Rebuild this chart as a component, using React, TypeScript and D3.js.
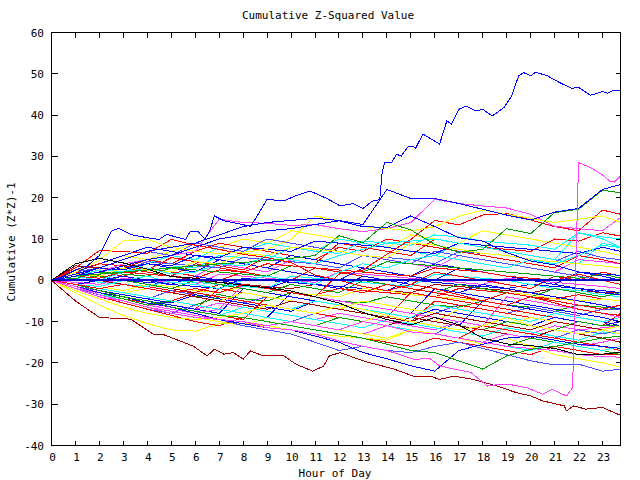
import React from 'react';
import * as d3 from 'd3';

const TITLE = 'Cumulative Z-Squared Value';
const X_LABEL = 'Hour of Day';
const Y_LABEL = 'Cumulative (Z*Z)-1';
const X_TICKS = [0,1,2,3,4,5,6,7,8,9,10,11,12,13,14,15,16,17,18,19,20,21,22,23];
const Y_TICKS = [-40,-30,-20,-10,0,10,20,30,40,50,60];
const HOURS = [0,1,2,3,4,5,6,7,8,9,10,11,12,13,14,15,16,17,18,19,20,21,22,23,23.75];

const BL = '#0000ff', RD = '#ff0000', GR = '#00a000', YE = '#ffff00', CY = '#00ffff',
  MA = '#ff40ff', MB = '#5050ff', DR = '#a00000', BK = '#000000';

// hourly series (values at HOURS)
const B2 = [0,1,3,5,7,8,9,11,13,14,14.5,15,14.5,13.5,22,19.8,19.8,18.6,17.2,15.8,14.6,16.5,17.4,22,23.2];
const B3 = [0,1,2,3.5,5,6,8,10,11,12,12.5,13.5,14.4,13,12.8,15.6,13,10.3,9.5,6.7,4.7,3.7,2,1.5,1.2];
const G1 = [0,1,1.5,2,2.5,3,3.5,4,4.3,4.8,5.3,6,10.8,9.1,14,12.2,8.7,6.8,7.5,12.5,11.3,16.4,17.2,21.8,21.2];
const R1 = [0,3,7.2,7,6.5,9.9,8.5,7.5,6.3,5.5,4.3,1.3,0,-1.5,-2.5,-1,-2,-3.5,-5,-6,-4,-5.5,-7,-8,-8.5];
const R2 = [0,-1,-2,-1,-2,-3,-2,-3,-1,-2,-3,-4,1.5,2.5,6.3,9.9,14.5,13.4,15.8,16.2,14.6,13,12,17,16];
const M2 = [0,1,2,4,5,6,7,14.8,14,13.8,13.3,13.5,12.5,11.8,12.5,14,19.6,18.6,18,17.5,16,13.1,12.5,12,15.2];
const Y1 = [0,2,5,9.5,9.9,8,7,6.5,6.8,7.5,9.9,15.6,14.4,13,12.5,12,13,15.5,17,16,15,14,14.8,15.6,14];
const C1 = [0,1,0,2,3,1.5,2,4,3.5,6,5,4,6,7.5,9,9.5,10,9,8,7,6,5,11.5,10.5,10];
const C2 = [0,-1,-1.5,0,1,-0.5,-1,-2,0,1,0,-1,2,4,3,5,6,5,4,3,5,4,6,8.5,7.9];
const K1 = [0,4,5.3,4.2,2.7,0.9,0.5,-0.5,-1.2,-1.8,-2.6,-4,-5.5,-7.8,-9.5,-10.8,-9,-10.8,-14,-15.4,-15.8,-16.5,-18,-17.9,-17.4];
const Y2 = [0,-3,-6,-8.5,-10.5,-12,-12.3,-10.5,-10.5,-11,-12,-13,-13.5,-14,-14.5,-12,-13,-14,-15.5,-14,-16,-18,-19,-20,-21];
const Y3 = [0,-2.5,-4.5,-6.5,-8,-9,-9.5,-9,-8,-6,-7,-8,-6,-7,-8.5,-10,-11,-12,-11,-9,-11,-12,-13,-12,-13];
const MB1 = [0,-2,-3.5,-5,-6.5,-7.5,-8.5,-9.5,-11,-12,-13,-15,-17,-16,-17,-17.5,-16,-15,-16.5,-18,-19.5,-20.5,-20.3,-22,-21.5];
const B4 = [0,-1.5,-3,-4,-5.5,-6.5,-8,-9.5,-10.5,-11.5,-12,-13.5,-15,-17.5,-19,-20.7,-22,-17,-15.5,-14,-13.5,-14.5,-15.5,-16,-16.5];
const M3 = [0,-2,-4,-5,-6.5,-8,-9,-9.5,-10,-11,-10,-11,-12,-10,-11,-12.5,-13,-14,-15,-16,-16.5,-17,-18,-18.5,-18.6];
const G2 = [0,-1,-2.5,-4,-5,-6.5,-7.5,-8.5,-9,-10,-11,-12,-13,-14,-15.5,-17,-17.5,-19.5,-21.5,-18.3,-16.7,-16,-15,-14,-13.5];

const A1 = [0,2.5,4,3.5,2.5,5.5,4.5,3.5,2.5,6,5,4,9,8,7,6,10,9,8,7.5,7,10,9.5,11.5,10.7];
const A2 = [0,1,2.5,2,4,3.5,3,6,5.5,5,8,7,6.5,9.5,9,8.5,11,10.5,9.5,9,8.5,7.5,11.5,10,8];
const A3 = [0,2,3,2.5,4.5,4,3.5,3,5.5,5,4.5,4,3,6,5.5,5,4,7,6.5,6,5,4.5,7,5.5,5];
const A4 = [0,1.5,1,3,2.5,2,4.5,4,6.5,6,8,7.5,7,6,5.5,9,8.5,7.5,6.5,6,5,4.5,4,3.5,3];
const A5 = [0,1,2,1.5,1,3,2.5,2,1.5,1,3.5,3,2.5,2,4.5,4,3.5,3,2.5,2,1.5,1,0.5,1.5,0.5];
const A6 = [0,1.5,3,2.5,4,3.5,6,5.5,8,7.5,7,9.5,9,8.5,8,7,6.5,9,8.5,8,7.5,7,6.5,8,7];
const A7 = [0,1,0.5,2,1.5,1,0.5,2.5,2,4,3.5,3,2.5,2,1.5,1,3,2.5,2,1,0.5,0,1.5,0,-1];
const A8 = [0,-0.5,-1,0.5,0,-0.5,-1,1.5,1,0.5,0,-0.5,2,1.5,1,0.5,0,-0.5,-1,0.5,0,-0.5,-1,-1.5,-2];
const A9 = [0,3.5,3,2,1.5,1,0,-0.5,-1,-1.5,-2,-1,-1.5,-2,-2.5,-3,-1,-1.5,-2,-2.5,-3,-2,-2.5,-3,-3];
const A10 = [0,-1,-1.5,0,-0.5,-1,-1.5,-2,0.5,0,-0.5,-1,-1.5,-2,-2.5,0,-0.5,-1,-1.5,-2,-1,-1.5,-2,-2.5,-3];
const A11 = [0,0.5,-0.5,-1,-1.5,0,-0.5,-1,-1.5,-2,1,0.5,0,-0.5,-1,-1.5,1.5,1,0.5,0,-1,-2,-2.5,-3.5,-4];
const A12 = [0,-1,-2,-1,-1.5,-2.5,-3,-1,-1.5,-2,-3,-3.5,-2,-2.5,-3,-3.5,-4,-2,-2.5,-3,-4,-4.5,-3.5,-4.5,-5];
const A13 = [0,-1,-1.5,-2.5,-1,-1.5,-2.5,-3,-1.5,-2,-3,-3.5,-4,-2,-2.5,-3.5,-4,-4.5,-5,-3,-3.5,-4.5,-5,-4.5,-5];
const A14 = [0,-1,-2,-3,-2,-3,-4,-3.5,-4.5,-5,-3,-4,-5,-5.5,-4,-5,-6,-6.5,-5,-6,-6.5,-7.5,-6,-6.5,-7];
const A15 = [0,-1.5,-2.5,-3.5,-4.5,-2.5,-3.5,-4.5,-5.5,-4,-5,-6,-7,-5,-6,-7,-8,-6,-7,-8,-6.5,-7.5,-8.5,-7,-7];
const A16 = [0,-1.5,-3,-4,-5,-6,-7,-2,-3,-4,-5,-6,-7,-8,-9,-3,-4,-5,-6,-7,-8,-9,-10,-11,-8];
const A17 = [0,-1,-2.5,-3.5,-4.5,-5.5,-3.5,-4.5,-5.5,-6.5,-7.5,-5,-6,-7,-8,-9,-7,-8,-9,-10,-11,-9,-10,-11,-10];
const A18 = [0,-2,-3,-4,-5,-6,-7,-5.5,-6.5,-7.5,-8.5,-9.5,-8,-9,-10,-11,-12,-10,-11,-12,-13,-11,-12,-11.5,-11];
const A19 = [0,-2,-3.5,-4.5,-5.5,-6.5,-7.5,-8.5,-6.5,-7.5,-8.5,-9.5,-10.5,-11.5,-9.5,-10.5,-11.5,-12.5,-13.5,-11.5,-12.5,-13.5,-14.5,-12.5,-13];
const A20 = [0,-1.5,-3,-4.5,-5.5,-6.5,-7.5,-8.5,-9.5,-4,-5,-6,-7,-8,-9,-10,-5,-6,-7,-8,-9,-10,-11,-12,-13];
const A21 = [0,-1,-2,-3,-4,-5,-6,-4,-5,-6,-7,-8,-9,-10,-8,-9,-10,-11,-12,-10,-11,-12,-10,-11,-11];
const A22 = [0,-1.5,-3,-4,-5,-6,-7,-8,-2,-3,-4,-5,-6,-7,-8,-9,-10,-11,-5,-6,-7,-8,-9,-10,-11];
const A23 = [0,-1,-2,-3,-4,-5,-6,-7,-8,-6,-7,-8,-9,-10,-8,-9,-10,-7,-8,-9,-10,-8,-9,-10,-9];
const A24 = [0,2,1,0,-1,-2,-3,-4,-5,-6,-7,-8,-9,-10,-11,-9,-10,-11,-12,-13,-14,-12,-13,-14,-15];
const A25 = [0,-2,-4,-5.5,-7,-8,-6,-7,-8,-9,-10,-8,-9,-10,-11,-12,-13,-10,-11,-12,-13,-14,-12,-13,-12];
const A26 = [0,1,2,3,2,1,4,3,2,1,0,3,2,1,0,-1,2,1,0,-1,-2,1,0,2,1];
const A27 = [0,1,2,3,4,3,2,5,4,3,2,1,0,3,2,1,4,3,2,1,0,-1,2,1,0];
const A28 = [0,-1.5,-3,-4.5,-6,-7,-8,-7,-8,-9,-10,-11,-12,-13,-11,-12,-13,-14,-15,-13,-14,-15,-16,-15,-14];
const A29 = [0,-2,-3.5,-5,-6.5,-8,-9,-10,-11,-9,-10,-11,-12,-13,-14,-12,-13,-14,-15,-16,-14,-15,-16,-17,-16];
const A30 = [0,-1,-2,-3,-4,-5,-3,-4,-5,-6,-7,-5,-6,-7,-8,-9,-6,-7,-8,-9,-10,-8,-9,-10,-9];
const A31 = [0,0.5,1,0,-1,-2,0,-1,-2,-3,-1,-2,-3,0,-1,-2,-3,-1,-2,-3,-4,-2,-3,-4,-3];
const A32 = [0,-2,-4,-5.5,-7,-8.5,-10,-11,-9,-10,-11,-12,-13,-14,-15,-16,-14,-15,-16,-17,-18,-16,-17,-18,-18];
const A33 = [0,-1,-2,-3,-4,-5,-6,-7,-8,-9,-3,-4,-5,-6,-7,-8,-2,-3,-4,-5,-6,-7,-8,-9,-10];
const A34 = [0,1,0,2,3,2,1,4,3,2,5,4,3,6,5,4,3,6,5,4,3,2,5,4.5,4];
const A35 = [0,2,4,6,5,7,9,8,10,9,12,11,10,9,8,11,10,9,12,11,10,9,8,7,6];
const A36 = [0,1,3,2,4,6,5,8,7,9,8,7,10,9,8,7,6,9,8,7,6,5,4,9,8];
const A37 = [0,2,1,3,5,4,7,9,8,7,6,5,8,7,10,9,8,7,6,5,4,3,6,5,4];
const A38 = [0,1,3,5,7,6,9,8,7,10,9,8,7,6,5,4,7,6,5,4,3,2,1,0,-1];
const A39 = [0,2,4,6,8,7,6,5,4,3,6,5,4,3,2,1,0,3,2,1,0,-1,-2,-3,-3.5];
const A40 = [0,-1,-2,-3,-4,-5,-3,-4,-5,-6,-7,-8,-9,-10,-11,-12,-13,-14,-11,-12,-13,-14,-15,-16,-17];
const A41 = [0,-1.5,-3,-4.5,-6,-5,-6,-7,-8,-9,-10,-11,-9,-10,-11,-12,-13,-14,-15,-16,-14,-15,-16,-17,-18];
const A42 = [0,-1,-2,-3,-4,-5,-6,-7,-1,-2,-3,-4,-5,-6,-7,-8,-9,-10,-11,-4,-5,-6,-7,-8,-9];
const A43 = [0,-1,-2,-3,-2,-3,-4,-5,-3,-4,-5,-6,-7,-5,-6,-7,-8,-9,-10,-11,-9,-10,-11,-12,-11];
const A44 = [0,-1,-2,-3,-4,-5,-6,-7,-8,-9,-10,-11,-12,-10,-11,-12,-13,-14,-15,-16,-17,-15,-16,-17,-16];
const A45 = [0,1,0,-1,-2,-3,-4,-5,-6,-7,-5,-6,-7,-8,-9,-10,-8,-9,-10,-11,-12,-10,-11,-12,-13];
const A46 = [0,1,2,1,3,2,1,0,2,1,0,-1,-2,-3,-1,-2,-3,-4,-5,-3,-4,-5,-6,-7,-6];
const A47 = [0,-1,0,1,0,-1,1,0,-1,-2,0,-1,-2,1,0,-1,-2,-3,-1,-2,-3,-4,-5,-6,-7];

const HOURLY_SERIES = [
  { color: DR, values: A9 }, { color: BL, values: A10 }, { color: RD, values: A12 }, { color: GR, values: A14 },
  { color: YE, values: A13 }, { color: CY, values: A11 }, { color: MA, values: A8 }, { color: MB, values: A15 },
  { color: RD, values: A16 }, { color: BL, values: A17 }, { color: MA, values: A18 }, { color: CY, values: A19 },
  { color: RD, values: A20 }, { color: GR, values: A21 }, { color: BL, values: A22 }, { color: YE, values: A23 },
  { color: DR, values: A24 }, { color: MB, values: A25 }, { color: RD, values: A26 }, { color: BL, values: A27 },
  { color: MA, values: A28 }, { color: YE, values: A29 }, { color: CY, values: A30 }, { color: GR, values: A31 },
  { color: RD, values: A32 }, { color: BL, values: A33 }, { color: MA, values: A34 },
  { color: YE, values: A35 }, { color: CY, values: A36 }, { color: RD, values: A37 }, { color: MB, values: A38 },
  { color: BL, values: A39 }, { color: RD, values: A40 }, { color: GR, values: A41 }, { color: MA, values: A42 },
  { color: YE, values: A43 }, { color: CY, values: A44 }, { color: DR, values: A45 }, { color: RD, values: A46 },
  { color: BL, values: A47 },
  { color: RD, values: A1 }, { color: CY, values: A2 }, { color: MB, values: A3 }, { color: YE, values: A4 },
  { color: GR, values: A5 }, { color: BL, values: A6 }, { color: RD, values: A7 },
  { color: YE, values: Y2 }, { color: YE, values: Y3 }, { color: MB, values: MB1 }, { color: BL, values: B4 },
  { color: MA, values: M3 }, { color: GR, values: G2 }, { color: CY, values: C1 }, { color: CY, values: C2 },
  { color: RD, values: R1 }, { color: RD, values: R2 }, { color: MA, values: M2 }, { color: YE, values: Y1 },
  { color: BL, values: B3 }, { color: GR, values: G1 }, { color: BL, values: B2 }, { color: BK, values: K1 },
];

// traced in finer detail: [hour, value]
const B1: [number, number][] = [[0,0],[0.5,1],[1,2.5],[1.5,3.5],[2,6],[2.5,11.9],[2.8,12.6],[3.3,11.1],[4,10.3],[4.5,9.9],[4.8,11.1],[5.6,9.9],[5.8,11.9],[6.1,11.9],[6.4,10],[6.6,11.9],[6.8,15.6],[7.2,14.4],[8.3,13.1],[8.5,14.8],[9,19.6],[9.7,19.2],[10.2,20.5],[10.8,21.6],[11.5,19.8],[12.05,18],[12.6,18.6],[13,17.4],[13.4,19.2],[13.7,19.5],[13.8,26],[13.9,28.5],[14.2,28.5],[14.4,30.5],[14.6,30.1],[14.9,32.5],[15.05,32.5],[15.2,32],[15.5,35.4],[16.2,33],[16.5,38.6],[16.7,37.8],[17,41.4],[17.3,42.2],[17.7,41],[18,41.4],[18.4,39.8],[18.9,41.9],[19.2,44.6],[19.5,49.5],[19.7,50.3],[20,49.5],[20.2,50.4],[20.7,49.5],[21.2,47.9],[21.7,46.5],[22,46.7],[22.5,44.8],[23,45.7],[23.2,45.3],[23.45,46],[23.75,46]];
const DR1: [number, number][] = [[0,0],[0.5,-2.5],[1,-5],[1.5,-7],[2,-9],[3.3,-9.4],[4.26,-13.1],[4.7,-13.2],[5.9,-15.9],[6.5,-18.3],[6.8,-16.7],[7.2,-17.9],[7.6,-17.5],[8,-19.1],[8.3,-17.1],[8.85,-18.3],[9.7,-18.3],[10.2,-20.3],[10.9,-22],[11.35,-20.8],[11.6,-18.3],[12.05,-17.5],[13,-19.5],[14.3,-21.5],[15.1,-23.2],[15.8,-23.2],[16.2,-24],[16.8,-23.2],[17.6,-24],[18.6,-25.6],[19.4,-27.2],[20,-28],[20.5,-29.2],[21.4,-30.4],[21.5,-31.6],[21.8,-30.4],[22.3,-31.2],[23,-30.8],[23.75,-32.7]];
const M1: [number, number][] = [[0,0],[1,-1.5],[2,-3.5],[3,-5],[4,-6.5],[5,-7.5],[6,-8.5],[7,-9.5],[8,-10],[9,-11.5],[10,-12],[11,-13],[12,-14.7],[13,-16],[14,-17],[14.7,-18.3],[15.1,-19.1],[15.8,-19],[16.2,-20.7],[16.8,-21.5],[17.5,-22.3],[18.2,-25.6],[18.7,-25.2],[19.1,-25.2],[19.85,-26],[20.5,-27.6],[20.9,-26.4],[21.5,-28],[21.75,-26],[22,28.5],[22.5,27.3],[23,25.5],[23.3,24],[23.5,23.8],[23.75,25.3]];

const DETAILED_SERIES = [
  { color: DR, points: DR1 },
  { color: MA, points: M1 },
  { color: BL, points: B1 },
];

const ZERO_LINE = 0;

export default function App() {
  const L = 51.5, R = 620.5, T = 32.5, B = 445.5;
  const x = d3.scaleLinear().domain([0, 23.75]).range([L, R]);
  const y = d3.scaleLinear().domain([-40, 60]).range([B, T]);
  const line = d3.line<[number, number]>().x(d => x(d[0])).y(d => y(d[1]));
  const snap = (v: number) => Math.round(v - 0.5) + 0.5;
  const font = { fontFamily: '"DejaVu Sans Mono", monospace', fontSize: 11 };

  const hourlyPaths = HOURLY_SERIES.map(s => ({
    color: s.color,
    d: line(HOURS.map((h, i) => [h, s.values[i]] as [number, number])) || '',
  }));
  const detailPaths = DETAILED_SERIES.map(s => ({ color: s.color, d: line(s.points) || '' }));

  return (
    <svg width={640} height={480} style={{ position: 'absolute', left: 0, top: 0, background: '#fff' }}>
      <defs>
        <clipPath id="plot"><rect x={L} y={T} width={R - L} height={B - T} /></clipPath>
      </defs>
      <rect x={0} y={0} width={640} height={480} fill="#fff" />
      <g clipPath="url(#plot)" fill="none" strokeWidth={1} shapeRendering="crispEdges">
        {hourlyPaths.map((p, i) => <path key={'h' + i} d={p.d} stroke={p.color} />)}
        {detailPaths.map((p, i) => <path key={'d' + i} d={p.d} stroke={p.color} />)}
        <line x1={L} x2={R} y1={y(ZERO_LINE)} y2={y(ZERO_LINE)} stroke="#0000d0" strokeWidth={2} />
      </g>
      <g stroke="#000" strokeWidth={1} shapeRendering="crispEdges" fill="none">
        <rect x={L} y={T} width={R - L} height={B - T} />
        {X_TICKS.map(t => (
          <g key={'xt' + t}>
            <line x1={snap(x(t))} x2={snap(x(t))} y1={B} y2={B - 5} />
            <line x1={snap(x(t))} x2={snap(x(t))} y1={T} y2={T + 5} />
          </g>
        ))}
        {Y_TICKS.map(t => (
          <g key={'yt' + t}>
            <line x1={L} x2={L + 6} y1={snap(y(t))} y2={snap(y(t))} />
            <line x1={R} x2={R - 5} y1={snap(y(t))} y2={snap(y(t))} />
          </g>
        ))}
      </g>
      <g {...font} fill="#000">
        <text x={328} y={19} textAnchor="middle">{TITLE}</text>
        {X_TICKS.map(t => (
          <text key={'xl' + t} x={x(t) + 1} y={461} textAnchor="middle">{t}</text>
        ))}
        {Y_TICKS.map(t => (
          <text key={'yl' + t} x={44} y={y(t) + 4} textAnchor="end">{t}</text>
        ))}
        <text x={335} y={477} textAnchor="middle">{X_LABEL}</text>
        <text transform={`translate(15,242) rotate(-90)`} textAnchor="middle">{Y_LABEL}</text>
      </g>
    </svg>
  );
}
